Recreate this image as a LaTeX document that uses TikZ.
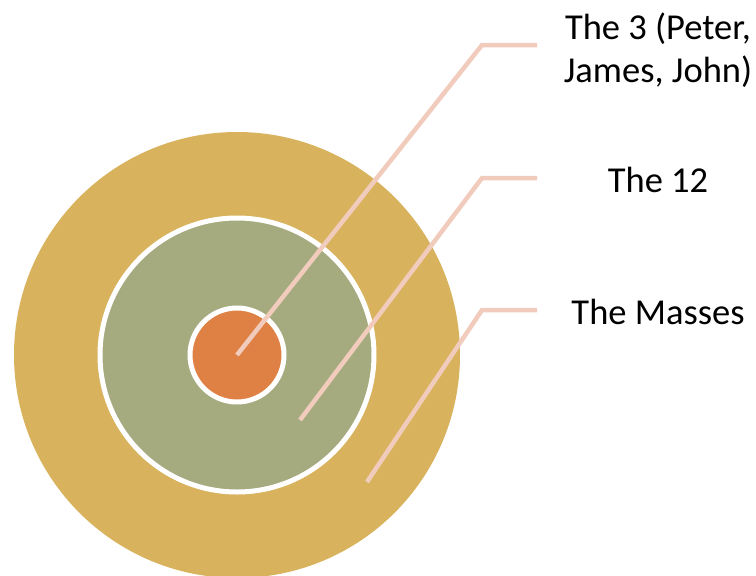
\documentclass[tikz,border=0pt]{standalone}
\usepackage{fontspec}
\setmainfont{Carlito}
\definecolor{outerc}{HTML}{D8B25C}
\definecolor{midc}{HTML}{A5AA7F}
\definecolor{innerc}{HTML}{DF8145}
\definecolor{leadc}{HTML}{F1CCBD}
\begin{document}
\begin{tikzpicture}[x=1pt,y=-1pt,
  ring/.style={circle,draw=white,line width=5pt,inner sep=0pt},
  leader/.style={draw=leadc,line width=4.5pt},
  lbl/.style={font=\fontsize{36.5}{43}\selectfont,align=center,text=black}]
\useasboundingbox (0,0) rectangle (756,576);
\begin{scope}
\clip (0,0) rectangle (756,576);
\node[circle,fill=outerc,minimum size=446pt,inner sep=0pt] (outer) at (237,355) {};
\node[ring,fill=midc,minimum size=274pt] (mid) at (237,355) {};
\node[ring,fill=innerc,minimum size=94pt] (inner) at (237,355) {};
\end{scope}
\coordinate (p1) at (237,355);
\coordinate (k1) at (482,45);
\coordinate (e1) at (537,45);
\coordinate (p2) at (300,420);
\coordinate (k2) at (482,178);
\coordinate (e2) at (537,178);
\coordinate (p3) at (367,482);
\coordinate (k3) at (482,310);
\coordinate (e3) at (537,310);
\draw[leader] (p1) -- (k1) -- (e1);
\draw[leader] (p2) -- (k2) -- (e2);
\draw[leader] (p3) -- (k3) -- (e3);
\node[lbl] (t1) at (658,50) {The 3 (Peter,\\James, John)};
\node[lbl] (t2) at (658,180) {The 12};
\node[lbl] (t3) at (658,312) {The Masses};
\end{tikzpicture}
\end{document}
